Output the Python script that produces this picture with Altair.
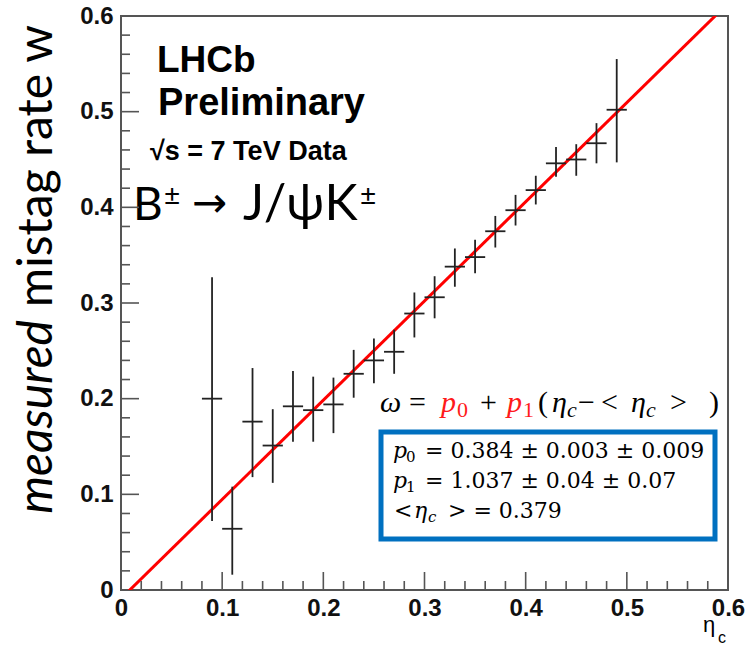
import altair as alt
import pandas as pd

# ---- data ----
eta_c = [0.09, 0.11, 0.13, 0.15, 0.17, 0.19, 0.21, 0.23, 0.25, 0.27, 0.29,
         0.31, 0.33, 0.35, 0.37, 0.39, 0.41, 0.43, 0.45, 0.47, 0.49]
mistag = [0.200, 0.064, 0.176, 0.151, 0.192, 0.188, 0.194, 0.226, 0.240, 0.249, 0.289,
          0.306, 0.338, 0.348, 0.375, 0.397, 0.418, 0.446, 0.450, 0.467, 0.502]
err_lo = [0.072, 0.016, 0.118, 0.112, 0.155, 0.155, 0.164, 0.201, 0.216, 0.226, 0.264,
          0.284, 0.317, 0.331, 0.358, 0.381, 0.403, 0.432, 0.433, 0.446, 0.447]
err_hi = [0.327, 0.108, 0.232, 0.189, 0.229, 0.223, 0.222, 0.251, 0.263, 0.272, 0.311,
          0.328, 0.357, 0.366, 0.391, 0.413, 0.433, 0.463, 0.466, 0.488, 0.555]
bin_half = 0.01

# fit parameters
p0 = 0.384
p1 = 1.037
eta_mean = 0.379
fit_range = [0.0, 0.6]

x_tick_values = [0.0, 0.1, 0.2, 0.3, 0.4, 0.5, 0.6]
y_tick_values = [0.0, 0.1, 0.2, 0.3, 0.4, 0.5, 0.6]
major_ticks = [0.1, 0.2, 0.3, 0.4, 0.5]
minor_ticks = [0.02, 0.04, 0.06, 0.08, 0.12, 0.14, 0.16, 0.18, 0.22, 0.24, 0.26, 0.28,
               0.32, 0.34, 0.36, 0.38, 0.42, 0.44, 0.46, 0.48, 0.52, 0.54, 0.56, 0.58]

W, H = 607, 574
MAJ_PX, MIN_PX = 18, 9

df = pd.DataFrame({
    "eta": eta_c, "w": mistag, "lo": err_lo, "hi": err_hi,
    "xlo": [e - bin_half for e in eta_c], "xhi": [e + bin_half for e in eta_c],
})
fit_df = pd.DataFrame({"eta": fit_range,
                       "w": [p0 + p1 * (e - eta_mean) for e in fit_range]})

# tick segments (inward ticks, ROOT style) in data units
seg = {"x1": [], "x2": [], "y1": [], "y2": []}
for vals, px in ((major_ticks, MAJ_PX), (minor_ticks, MIN_PX)):
    for v in vals:
        seg["x1"].append(v); seg["x2"].append(v)
        seg["y1"].append(0.0); seg["y2"].append(px * 0.6 / H)
        seg["x1"].append(0.0); seg["x2"].append(px * 0.6 / W)
        seg["y1"].append(v); seg["y2"].append(v)
tick_df = pd.DataFrame(seg)
one = pd.DataFrame({"k": [0]})

xs = alt.Scale(domain=[0, 0.6], nice=False, zero=False)
ys = alt.Scale(domain=[0, 0.6], nice=False, zero=False)
LBL = "Liberation Sans, Arial, sans-serif"
label_expr = "datum.value == 0 ? '0' : format(datum.value, '.1f')"

xaxis = alt.Axis(values=x_tick_values, labelExpr=label_expr, labelFont=LBL, labelFontSize=24,
                 labelFontWeight="bold", labelColor="#111", ticks=False, tickSize=0,
                 domain=False, grid=False, title=None, labelPadding=6, labelFlush=False)
yaxis = alt.Axis(values=y_tick_values, labelExpr=label_expr, labelFont=LBL, labelFontSize=24,
                 labelFontWeight="bold", labelColor="#111", ticks=False, tickSize=0,
                 domain=False, grid=False, title=None, labelPadding=8, labelFlush=False)

base = alt.Chart(df)
vbars = base.mark_rule(color="#222", strokeWidth=1.8).encode(
    x=alt.X("eta:Q", scale=xs, axis=xaxis),
    y=alt.Y("lo:Q", scale=ys, axis=yaxis),
    y2="hi:Q")
hbars = base.mark_rule(color="#222", strokeWidth=1.8).encode(
    x=alt.X("xlo:Q", scale=xs), x2="xhi:Q", y=alt.Y("w:Q", scale=ys))

fit = alt.Chart(fit_df).mark_line(color="#ff0000", strokeWidth=3, clip=True).encode(
    x=alt.X("eta:Q", scale=xs), y=alt.Y("w:Q", scale=ys))

ticks = alt.Chart(tick_df).mark_rule(color="#555", strokeWidth=1.6).encode(
    x=alt.X("x1:Q", scale=xs), x2="x2:Q", y=alt.Y("y1:Q", scale=ys), y2="y2:Q")

OX, OY = 121, 16  # plot origin in page pixels


def txt(s, x, y, size, font, color="black", weight="normal", style="normal",
        align="left", angle=0, baseline="alphabetic"):
    return alt.Chart(one).mark_text(
        text=s, font=font, fontSize=size, fontWeight=weight, fontStyle=style,
        color=color, align=align, baseline=baseline, angle=angle
    ).encode(x=alt.value(x - OX), y=alt.value(y - OY))


CAL = "Lato, Open Sans, DejaVu Sans, sans-serif"
SER = "Liberation Serif, DejaVu Serif, serif"
BOX = "DejaVu Serif, serif"
RED = "#ff1a1a"

ann = [
    txt("LHCb", 157, 72, 37, LBL, weight="bold"),
    txt("Preliminary", 158, 115, 38, LBL, weight="bold"),
    txt("√s = 7 TeV Data", 150, 160, 27, LBL, weight="bold"),
    txt("B", 133, 220, 46, CAL),
    txt("±", 164, 205, 28, CAL),
    txt("→", 192, 217, 42, "DejaVu Sans, sans-serif"),
    txt("J/ψK", 243, 220, 50, CAL),
    txt("±", 360, 205, 28, CAL),
    # y axis title
    txt("measured", 52, 320, 48, CAL, style="italic", align="right", angle=270),
    txt("mistag rate w", 52, 25, 48, CAL, align="right", angle=270),
    # x axis title
    txt("η", 703, 632, 22, LBL),
    txt("c", 718, 643, 16, LBL),
]

formula = [
    ("ω", 380, 30, "black", "italic", 412),
    ("=", 409, 30, "black", "normal", 412),
    ("p", 441, 30, RED, "italic", 412),
    ("0", 457, 22, RED, "normal", 417),
    ("+", 480, 30, "black", "normal", 412),
    ("p", 507, 30, RED, "italic", 412),
    ("1", 523, 22, RED, "normal", 417),
    ("(", 538, 30, "black", "normal", 412),
    ("η", 552, 30, "black", "italic", 412),
    ("c", 567, 22, "black", "italic", 417),
    ("−", 578, 30, "black", "normal", 412),
    ("<", 601, 30, "black", "normal", 412),
    ("η", 631, 30, "black", "italic", 412),
    ("c", 646, 22, "black", "italic", 417),
    (">", 670, 30, "black", "normal", 412),
    (")", 709, 30, "black", "normal", 412),
]
for s, x, fs, c, st, b in formula:
    ann.append(txt(s, x, b, fs, SER, color=c, style=st))

box = alt.Chart(one).mark_rect(fill="white", stroke="#0070C0", strokeWidth=5).encode(
    x=alt.value(381 - OX), x2=alt.value(715 - OX), y=alt.value(432 - OY), y2=alt.value(539 - OY))

box_txt = [
    txt("p", 393, 458, 22, BOX, style="italic"),
    txt("0", 406, 462, 15, BOX),
    txt("= 0.384 ± 0.003 ± 0.009", 425, 458, 22, BOX),
    txt("p", 393, 488, 22, BOX, style="italic"),
    txt("1", 406, 492, 15, BOX),
    txt("= 1.037 ± 0.04 ± 0.07", 425, 488, 22, BOX),
    txt("<", 394, 518, 22, BOX),
    txt("η", 414, 518, 22, BOX, style="italic"),
    txt("c", 428, 522, 15, BOX, style="italic"),
    txt("> = 0.379", 448, 518, 22, BOX),
]

chart = alt.layer(
    fit, vbars, hbars, *ann, box, *box_txt, ticks
).properties(
    width=W, height=H,
    autosize=alt.AutoSizeParams(type="none"),
    padding={"left": OX, "top": OY, "right": 751 - OX - W, "bottom": 650 - OY - H},
    background="white",
).configure_view(stroke="#555", strokeWidth=2, fill="white")

chart.save("out.html", embed_options={"renderer": "svg", "actions": False})
